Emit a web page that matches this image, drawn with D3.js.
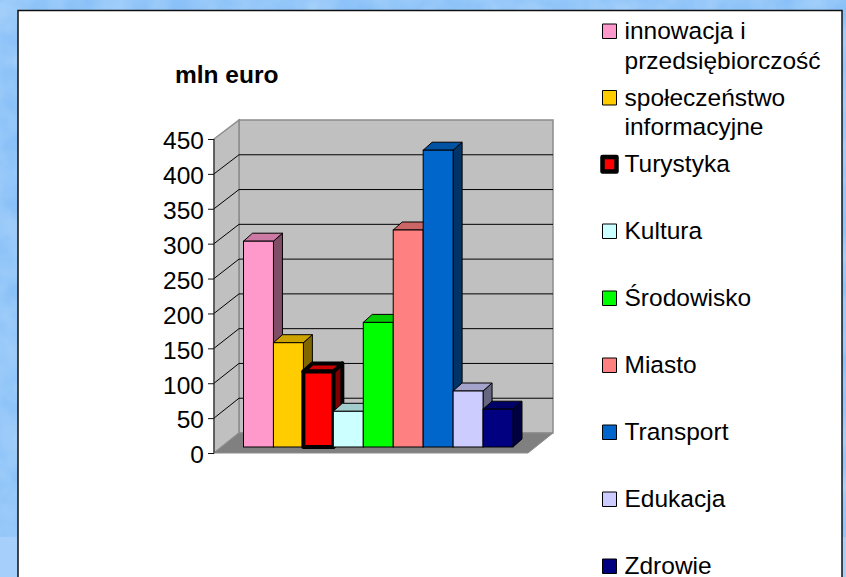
<!DOCTYPE html>
<html>
<head>
<meta charset="utf-8">
<script src="https://cdn.jsdelivr.net/npm/d3@7/dist/d3.min.js"></script>
<style>
html, body { margin: 0; padding: 0; background: #8fc4f8; overflow: hidden; }
text { font-family: "Liberation Sans", Arial, sans-serif; fill: #000; }
</style>
</head>
<body>
<svg id="chart" width="846" height="577"></svg>
<script>
// values, mln euro
var categories = ["innowacja i przedsiębiorczość", "społeczeństwo informacyjne", "Turystyka", "Kultura",
   "Środowisko", "Miasto", "Transport", "Edukacja", "Zdrowie"];
var values = [294, 149, 108, 51, 178, 310, 424, 80, 54];
var colors = ["#ff99cc", "#ffcc00", "#ff0000", "#ccffff", "#00ff00", "#ff8080", "#0066cc", "#ccccff", "#000080"];
var legendLines = [["innowacja i", "przedsiębiorczość"], ["społeczeństwo", "informacyjne"], ["Turystyka"], ["Kultura"],
   ["Środowisko"], ["Miasto"], ["Transport"], ["Edukacja"], ["Zdrowie"]];
var yTicks = [0, 50, 100, 150, 200, 250, 300, 350, 400, 450];

var svg = d3.select("#chart");
var fontSize = 24.5;

// blotchy slide background
var defs = svg.append("defs");
var filter = defs.append("filter").attr("id", "blotch").attr("x", 0).attr("y", 0).attr("width", "100%").attr("height", "100%");
filter.append("feTurbulence").attr("type", "fractalNoise").attr("baseFrequency", 0.03).attr("numOctaves", 3).attr("seed", 4);
filter.append("feColorMatrix").attr("type", "matrix")
   .attr("values", "0 0 0 0 0.68  0 0 0 0 0.84  0 0 0 0 0.99  0.6 0 0 0 -0.15");

svg.append("rect").attr("width", 846).attr("height", 577).attr("fill", "#8ac1f8");
svg.append("rect").attr("width", 846).attr("height", 577).attr("filter", "url(#blotch)");
svg.append("rect").attr("y", 537).attr("width", 846).attr("height", 40).attr("fill", "#a6cffc");

// white panel, runs off the bottom of the page
svg.append("rect").attr("x", 18).attr("y", 10.5).attr("width", 824).attr("height", 600)
   .attr("fill", "#fff").attr("stroke", "#111").attr("stroke-width", 1.5);

var x = d3.scaleBand().domain(categories).range([243.5, 513]).padding(0);
var yFront = d3.scaleLinear().domain([0, 450]).range([453, 139]);
var yBack = d3.scaleLinear().domain([0, 450]).range([433, 120]);
var yBar = d3.scaleLinear().domain([0, 450]).range([447, 132]);

var axisLeftX = 214, wallX = 239, wallRight = 553, floorRight = 528;
var barDx = 9, barDy = -8;

function poly(pts) { return pts.map(function(p) { return p.join(","); }).join(" "); }
function shade(c, k) {
   var r = d3.rgb(c);
   return d3.rgb(r.r * k, r.g * k, r.b * k).formatHex();
}

// walls and floor
var g = svg.append("g");
g.append("polygon").attr("fill", "#c0c0c0").attr("stroke", "#8c8c8c").attr("stroke-width", 1.5)
   .attr("points", poly([[wallX, yBack(450)], [wallRight, yBack(450)], [wallRight, yBack(0)], [wallX, yBack(0)]]));
g.append("polygon").attr("fill", "#c0c0c0").attr("stroke", "#8c8c8c").attr("stroke-width", 1.5)
   .attr("points", poly([[axisLeftX, yFront(450)], [wallX, yBack(450)], [wallX, yBack(0)], [axisLeftX, yFront(0)]]));
g.append("polygon").attr("fill", "#808080").attr("stroke", "#8c8c8c")
   .attr("points", poly([[axisLeftX, yFront(0)], [wallX, yBack(0)], [wallRight, yBack(0)], [floorRight, yFront(0)]]));

// gridlines, diagonal on the side wall then across the back
var gridTicks = yTicks.slice(1, -1);
g.selectAll(".grid").data(gridTicks).enter().append("polyline")
   .attr("fill", "none").attr("stroke", "#000").attr("stroke-width", 1)
   .attr("points", function(d) { return poly([[axisLeftX, yFront(d)], [wallX, yBack(d)], [wallRight, yBack(d)]]); });

// axis
var axis = d3.axisLeft(yFront).tickValues(yTicks).tickSize(6).tickPadding(4);
var axisG = svg.append("g").attr("transform", "translate(" + axisLeftX + ",0)").call(axis);
axisG.select(".domain").attr("stroke", "#222").attr("d", "M0," + yFront(450) + "V" + yFront(0));
axisG.selectAll(".tick line").attr("stroke", "#111");
axisG.selectAll("text").attr("font-size", fontSize).attr("font-family", "Liberation Sans").attr("dy", "0.4em");

// bars
var bars = svg.selectAll(".bar").data(categories).enter().append("g")
   .attr("stroke", "#000")
   .attr("stroke-linejoin", function(d) { return d === "Turystyka" ? "round" : "miter"; })
   .attr("stroke-width", function(d) { return d === "Turystyka" ? 4 : 1; });

bars.append("polygon")
   .attr("fill", function(d, i) { return shade(colors[i], 0.5); })
   .attr("points", function(d, i) {
      var r = x(d) + x.bandwidth(), t = yBar(values[i]), b = yBar(0);
      return poly([[r, t], [r + barDx, t + barDy], [r + barDx, b + barDy], [r, b]]);
   });
bars.append("polygon")
   .attr("fill", function(d, i) { return shade(colors[i], 0.8); })
   .attr("points", function(d, i) {
      var l = x(d), r = l + x.bandwidth(), t = yBar(values[i]);
      return poly([[l, t], [l + barDx, t + barDy], [r + barDx, t + barDy], [r, t]]);
   });
bars.append("rect")
   .attr("x", function(d) { return x(d); })
   .attr("y", function(d, i) { return yBar(values[i]); })
   .attr("width", x.bandwidth())
   .attr("height", function(d, i) { return yBar(0) - yBar(values[i]); })
   .attr("fill", function(d, i) { return colors[i]; });

// title
svg.append("text").attr("x", 175).attr("y", 83).attr("font-size", fontSize).attr("font-weight", "bold").text("mln euro");

// legend
var legendY = [];
var curY = 39;
legendLines.forEach(function(lines) {
   legendY.push(curY);
   curY += lines.length > 1 ? 66.5 : 67;
});

var legend = svg.selectAll(".legend").data(categories).enter().append("g")
   .attr("transform", function(d, i) { return "translate(0," + legendY[i] + ")"; });

legend.append("rect")
   .attr("x", 602.5).attr("y", -15).attr("width", 14).attr("height", 14.5)
   .attr("fill", function(d, i) { return colors[i]; })
   .attr("stroke", "#000")
   .attr("stroke-linejoin", "round")
   .attr("stroke-width", function(d) { return d === "Turystyka" ? 4.5 : 1; });

legend.each(function(d, i) {
   var t = d3.select(this);
   legendLines[i].forEach(function(line, j) {
      t.append("text").attr("x", 624.5).attr("y", j * 29.5).attr("font-size", fontSize).text(line);
   });
});
</script>
</body>
</html>
